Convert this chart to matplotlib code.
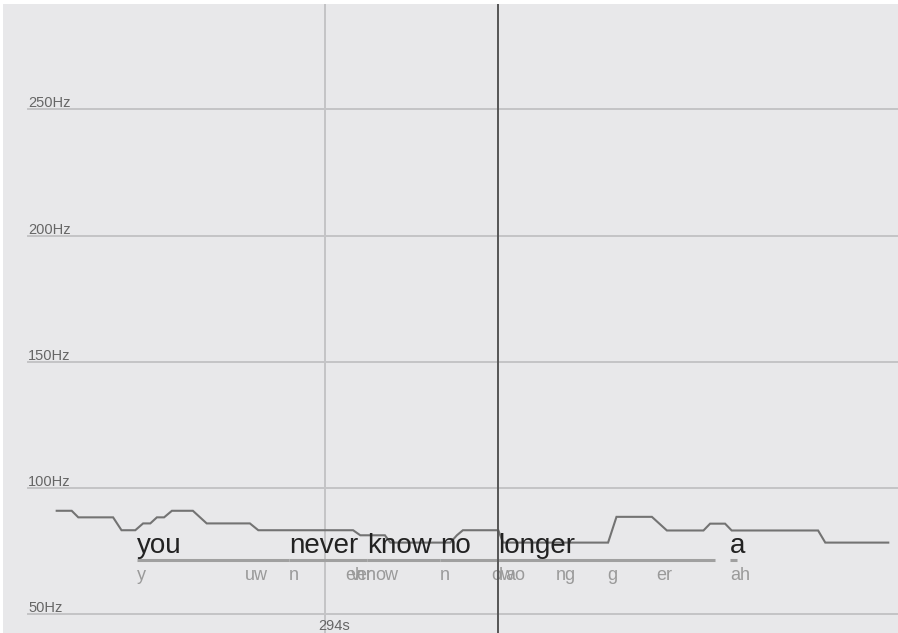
import matplotlib
matplotlib.use("Agg")
import matplotlib.pyplot as plt
import matplotlib.transforms as mtransforms

plt.rcParams['font.family'] = ['Liberation Sans', 'DejaVu Sans']

# ---- data ----
pitch_t = [293.552, 293.577, 293.588, 293.646, 293.660, 293.683, 293.696, 293.708,
           293.719, 293.731, 293.744, 293.779, 293.802, 293.874, 293.888, 294.046,
           294.058, 294.099, 294.108, 294.208, 294.219, 294.229, 294.288, 294.296,
           294.471, 294.485, 294.544, 294.569, 294.630, 294.641, 294.666, 294.677,
           294.821, 294.833, 294.938]
pitch_hz = [91.0, 91.0, 88.4, 88.4, 83.3, 83.3, 86.0, 86.0,
            88.4, 88.4, 91.0, 91.0, 86.0, 86.0, 83.3, 83.3,
            81.3, 81.3, 78.4, 78.4, 81.3, 83.3, 83.3, 78.4,
            78.4, 88.6, 88.6, 83.2, 83.2, 85.9, 85.9, 83.2,
            83.2, 78.4, 78.4]

words = ["you", "never", "know", "no", "longer", "a"]
word_start = [293.686, 293.939, 294.069, 294.191, 294.2875, 294.674]
word_end = [293.939, 294.069, 294.191, 294.2875, 294.649, 294.686]

phonemes = ["y", "uw", "n", "eh", "v", "er", "n", "ow", "n", "ow", "l", "ao",
            "ng", "g", "er", "ah"]
phoneme_start = [293.686, 293.866, 293.939, 294.033, 294.043, 294.051, 294.068,
                 294.083, 294.191, 294.276, 294.289, 294.299, 294.384, 294.469,
                 294.551, 294.674]

y_ticks = [50, 100, 150, 200, 250]
y_tick_labels = ["50Hz", "100Hz", "150Hz", "200Hz", "250Hz"]
x_ticks = [294]
x_tick_labels = ["294s"]
cursor_t = 294.288

# ---- figure ----
W, H = 898, 633
fig = plt.figure(figsize=(W / 100, H / 100), dpi=100, facecolor='white')
ax = fig.add_axes([3 / W, 0, 895 / W, 629 / H])
ax.set_facecolor('#e8e8ea')
ax.set_xlim(293.4625, 294.9542)
ax.set_ylim(42.6, 291.7)
for s in ax.spines.values():
    s.set_visible(False)
ax.set_xticks([])
ax.set_yticks([])

grid_x0 = (28 - 3) / 895
for v, lab in zip(y_ticks, y_tick_labels):
    ax.axhline(v, xmin=grid_x0, xmax=1, color='#c4c4c6', lw=1.4, zorder=1)
    tr = mtransforms.offset_copy(ax.get_yaxis_transform(), fig=fig, x=0, y=2, units='dots')
    ax.text(grid_x0, v, lab, transform=tr, ha='left', va='baseline',
            fontsize=10.5, color='#666666', zorder=2)

for v, lab in zip(x_ticks, x_tick_labels):
    ax.axvline(v, color='#c4c4c6', lw=1.4, zorder=1)
    tr = mtransforms.offset_copy(ax.get_xaxis_transform(), fig=fig, x=-7, y=0, units='dots')
    ax.text(v, 3 / 629, lab, transform=tr, ha='left', va='baseline',
            fontsize=10.5, color='#666666', zorder=2)

ax.axvline(cursor_t, color='#555555', lw=1.4, zorder=5)

ax.plot(pitch_t, pitch_hz, color='#737373', lw=1.5, zorder=3,
        solid_joinstyle='miter')

for w, s, e in zip(words, word_start, word_end):
    ax.plot([s, e], [71.5, 71.5], color='#a0a0a0', lw=2.2, solid_capstyle='butt', zorder=3)
    ax.text(s, 74.3, w, ha='left', va='baseline', fontsize=20, color='#222222', zorder=4)

for p, s in zip(phonemes, phoneme_start):
    ax.text(s, 63.4, p, ha='left', va='baseline', fontsize=13, color='#9a9a9a', zorder=4)

fig.savefig('out.png', dpi=100, facecolor='white')
